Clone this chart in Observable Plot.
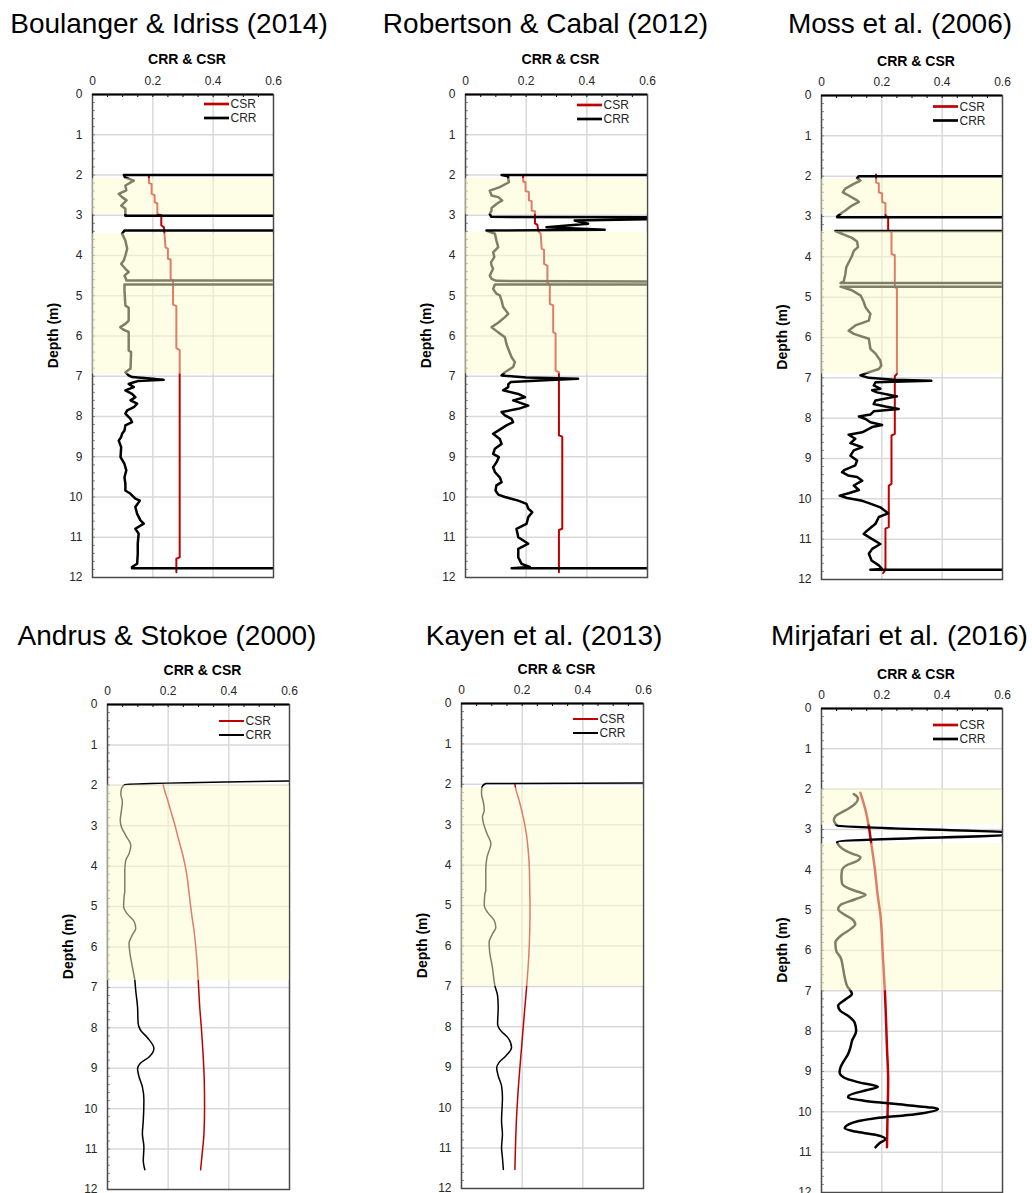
<!DOCTYPE html>
<html>
<head>
<meta charset="utf-8">
<script src="https://cdn.jsdelivr.net/npm/d3@7"></script>
<script src="https://cdn.jsdelivr.net/npm/@observablehq/plot@0.6"></script>
<style>
  body { margin: 0; background: #fff; }
  #root { position: relative; width: 1032px; height: 1193px; overflow: hidden; font-family: "Liberation Sans", Arial, sans-serif; }
  .panel { position: absolute; }
  #overlay { position: absolute; left: 0; top: 0; pointer-events: none; }
</style>
</head>
<body>
<div id="root"></div>
<script>
// ---------------- DATA ----------------
const TITLES = ["Boulanger & Idriss (2014)", "Robertson & Cabal (2012)", "Moss et al. (2006)",
                "Andrus & Stokoe (2000)", "Kayen et al. (2013)", "Mirjafari et al. (2016)"];
const X_LABEL = "CRR & CSR";
const Y_LABEL = "Depth (m)";
const SERIES = ["CSR", "CRR"];
const X_DOMAIN = [0, 0.6];
const Y_DOMAIN = [0, 12];
const X_TICKS = [0, 0.2, 0.4, 0.6];
const X_MINOR = [0, 0.05, 0.1, 0.15, 0.2, 0.25, 0.3, 0.35, 0.4, 0.45, 0.5, 0.55, 0.6];
const Y_TICKS = [0, 1, 2, 3, 4, 5, 6, 7, 8, 9, 10, 11, 12];
const Y_MINOR = d3.range(0, 12.001, 0.2);
const X_GRID = [0.2, 0.4];
const Y_GRID = [1, 2, 3, 4, 5, 6, 7, 8, 9, 10, 11];

// [depth (m), value]
const BI_CRR = [[2.0,0.65],[2.0,0.104],[2.06,0.108],[2.14,0.137],[2.26,0.109],[2.38,0.112],[2.47,0.087],[2.55,0.098],[2.63,0.113],[2.76,0.095],[2.84,0.109],[2.99,0.109],[3.01,0.109],[3.01,0.65],[3.38,0.65],[3.38,0.106],[3.46,0.098],[3.63,0.109],[3.83,0.115],[4.0,0.109],[4.12,0.104],[4.21,0.095],[4.33,0.109],[4.41,0.12],[4.5,0.106],[4.6,0.112],[4.62,0.112],[4.62,0.65],[4.72,0.65],[4.72,0.106],[4.87,0.106],[5.24,0.109],[5.3,0.12],[5.62,0.12],[5.7,0.109],[5.78,0.092],[5.85,0.104],[5.9,0.12],[6.36,0.12],[6.4,0.128],[6.81,0.126],[6.9,0.109],[6.98,0.12],[7.02,0.131],[7.06,0.2],[7.09,0.236],[7.12,0.15],[7.15,0.137],[7.19,0.12],[7.27,0.137],[7.35,0.109],[7.44,0.131],[7.52,0.142],[7.6,0.126],[7.68,0.148],[7.77,0.137],[7.85,0.115],[7.93,0.109],[8.06,0.126],[8.14,0.131],[8.22,0.109],[8.35,0.106],[8.43,0.098],[8.51,0.095],[8.6,0.087],[8.76,0.095],[9.01,0.093],[9.18,0.106],[9.34,0.112],[9.51,0.106],[9.67,0.109],[9.84,0.109],[9.92,0.126],[10.04,0.142],[10.09,0.157],[10.25,0.142],[10.42,0.148],[10.58,0.159],[10.66,0.17],[10.79,0.142],[10.91,0.153],[11.16,0.15],[11.41,0.15],[11.66,0.148],[11.74,0.131],[11.77,0.131],[11.77,0.65]];
const BI_CSR = [[2.03,0.187],[2.2,0.187],[2.22,0.196],[2.47,0.196],[2.5,0.206],[2.68,0.206],[2.7,0.215],[2.97,0.215],[3.0,0.228],[3.25,0.228],[3.3,0.237],[3.8,0.242],[3.83,0.25],[4.08,0.25],[4.1,0.259],[4.58,0.259],[4.62,0.267],[5.22,0.267],[5.26,0.278],[6.3,0.278],[6.35,0.289],[11.5,0.289],[11.53,0.278],[11.87,0.278]];
const BI_SHADE = [[2.09,2.98],[3.46,6.95]];

const RC_CRR = [[2.0,0.65],[2.0,0.119],[2.03,0.14],[2.09,0.141],[2.18,0.143],[2.3,0.113],[2.39,0.08],[2.51,0.086],[2.55,0.108],[2.63,0.121],[2.72,0.102],[2.82,0.086],[2.88,0.086],[2.97,0.08],[3.04,0.085],[3.05,0.65],[3.09,0.65],[3.13,0.36],[3.21,0.404],[3.3,0.267],[3.36,0.459],[3.38,0.069],[3.46,0.097],[3.63,0.102],[3.79,0.108],[3.92,0.091],[4.04,0.095],[4.17,0.084],[4.25,0.086],[4.33,0.091],[4.5,0.08],[4.58,0.086],[4.63,0.102],[4.65,0.65],[4.72,0.65],[4.72,0.097],[4.83,0.091],[4.95,0.102],[4.99,0.113],[5.12,0.119],[5.28,0.124],[5.45,0.141],[5.53,0.13],[5.66,0.11],[5.78,0.086],[5.91,0.108],[6.03,0.13],[6.2,0.135],[6.36,0.143],[6.53,0.152],[6.65,0.163],[6.77,0.157],[6.9,0.13],[6.98,0.119],[7.03,0.2],[7.06,0.371],[7.1,0.262],[7.14,0.15],[7.2,0.141],[7.27,0.141],[7.35,0.124],[7.44,0.174],[7.52,0.196],[7.6,0.157],[7.73,0.207],[7.81,0.174],[7.89,0.119],[7.97,0.13],[8.06,0.152],[8.14,0.157],[8.22,0.135],[8.35,0.108],[8.43,0.091],[8.56,0.113],[8.68,0.119],[8.8,0.097],[8.93,0.091],[9.01,0.11],[9.14,0.102],[9.26,0.091],[9.38,0.097],[9.51,0.113],[9.63,0.119],[9.71,0.102],[9.84,0.099],[9.94,0.108],[10.0,0.13],[10.09,0.174],[10.17,0.201],[10.29,0.207],[10.38,0.22],[10.5,0.207],[10.67,0.201],[10.79,0.168],[11.0,0.174],[11.16,0.207],[11.29,0.174],[11.5,0.174],[11.66,0.185],[11.74,0.212],[11.77,0.152],[11.77,0.65]];
const RC_CSR = [[2.01,0.19],[2.16,0.19],[2.18,0.198],[2.4,0.198],[2.42,0.209],[2.63,0.209],[2.65,0.218],[2.88,0.218],[2.9,0.229],[3.2,0.229],[3.24,0.237],[3.4,0.24],[3.46,0.248],[3.83,0.251],[3.86,0.259],[4.21,0.259],[4.25,0.27],[4.68,0.27],[4.72,0.278],[5.2,0.278],[5.24,0.289],[5.9,0.289],[5.94,0.297],[6.86,0.297],[6.9,0.308],[8.47,0.308],[8.5,0.319],[10.79,0.319],[10.82,0.308],[11.87,0.308]];
const RC_SHADE = [[2.09,2.98],[3.42,6.94]];

const MO_CRR = [[2.0,0.65],[2.0,0.124],[2.05,0.118],[2.11,0.129],[2.19,0.107],[2.31,0.079],[2.4,0.071],[2.48,0.09],[2.6,0.118],[2.64,0.124],[2.73,0.101],[2.85,0.079],[2.93,0.063],[3.0,0.052],[3.02,0.052],[3.02,0.65],[3.36,0.65],[3.36,0.046],[3.43,0.068],[3.53,0.101],[3.62,0.118],[3.76,0.121],[3.85,0.107],[3.98,0.101],[4.14,0.09],[4.26,0.082],[4.43,0.079],[4.6,0.074],[4.65,0.063],[4.65,0.65],[4.74,0.65],[4.74,0.063],[4.83,0.101],[4.96,0.13],[5.12,0.14],[5.25,0.146],[5.41,0.162],[5.58,0.157],[5.7,0.112],[5.83,0.09],[5.91,0.107],[6.03,0.157],[6.28,0.162],[6.4,0.179],[6.57,0.195],[6.7,0.198],[6.78,0.19],[6.89,0.146],[6.94,0.129],[7.0,0.157],[7.05,0.24],[7.07,0.364],[7.11,0.179],[7.19,0.173],[7.27,0.195],[7.31,0.168],[7.36,0.184],[7.42,0.223],[7.46,0.25],[7.56,0.179],[7.65,0.173],[7.71,0.212],[7.77,0.256],[7.83,0.173],[7.91,0.162],[7.96,0.124],[8.02,0.146],[8.1,0.162],[8.17,0.201],[8.22,0.168],[8.35,0.135],[8.41,0.09],[8.51,0.112],[8.62,0.096],[8.72,0.135],[8.8,0.107],[8.93,0.096],[9.05,0.118],[9.17,0.112],[9.28,0.077],[9.34,0.068],[9.42,0.088],[9.46,0.118],[9.55,0.135],[9.67,0.107],[9.78,0.124],[9.86,0.09],[9.92,0.06],[9.98,0.085],[10.05,0.135],[10.12,0.162],[10.21,0.195],[10.36,0.221],[10.45,0.19],[10.62,0.179],[10.79,0.151],[10.87,0.14],[10.95,0.157],[11.12,0.195],[11.24,0.168],[11.36,0.157],[11.53,0.166],[11.65,0.19],[11.74,0.201],[11.76,0.162],[11.76,0.65]];
const MO_CSR = [[1.96,0.181],[2.16,0.181],[2.18,0.19],[2.4,0.19],[2.43,0.201],[2.64,0.201],[2.67,0.212],[2.98,0.212],[3.02,0.221],[3.35,0.221],[3.38,0.232],[3.93,0.232],[3.96,0.243],[4.75,0.243],[4.78,0.25],[6.9,0.25],[6.96,0.243],[8.39,0.243],[8.43,0.232],[9.63,0.232],[9.67,0.223],[10.7,0.223],[10.74,0.212],[11.76,0.212],[11.84,0.204]];
const MO_SHADE = [[2.07,2.95],[3.37,6.9]];

const AS_CRR = [[1.89,0.6],[1.98,0.057],[2.08,0.046],[2.21,0.044],[2.41,0.049],[2.62,0.046],[2.87,0.042],[3.03,0.046],[3.24,0.06],[3.49,0.077],[3.69,0.071],[3.86,0.06],[4.11,0.057],[4.6,0.057],[4.75,0.055],[5.0,0.053],[5.17,0.064],[5.37,0.088],[5.54,0.093],[5.7,0.082],[5.91,0.071],[6.16,0.074],[6.49,0.082],[6.82,0.09],[7.07,0.093],[7.48,0.099],[7.89,0.101],[8.06,0.109],[8.24,0.131],[8.51,0.153],[8.72,0.137],[8.87,0.109],[9.01,0.099],[9.21,0.104],[9.46,0.115],[9.79,0.12],[10.29,0.118],[10.62,0.115],[10.95,0.12],[11.28,0.118],[11.51,0.123]];
const AS_CSR = [[2.0,0.184],[2.12,0.188],[2.33,0.197],[2.62,0.208],[2.95,0.221],[3.36,0.235],[3.78,0.25],[4.19,0.261],[4.6,0.268],[5.17,0.277],[5.58,0.285],[6.16,0.293],[6.82,0.299],[7.48,0.304],[8.06,0.31],[8.64,0.315],[9.3,0.319],[9.96,0.32],[10.62,0.318],[11.12,0.312],[11.51,0.307]];
const AS_SHADE = [[2.0,6.83]];

const KA_CRR = [[1.97,0.6],[1.98,0.08],[2.08,0.067],[2.23,0.066],[2.48,0.073],[2.64,0.075],[2.81,0.069],[2.98,0.073],[3.22,0.084],[3.47,0.097],[3.64,0.091],[3.8,0.084],[4.13,0.08],[4.63,0.08],[4.71,0.077],[5.0,0.075],[5.17,0.086],[5.37,0.108],[5.54,0.113],[5.7,0.102],[5.91,0.091],[6.16,0.093],[6.53,0.102],[6.98,0.11],[7.23,0.119],[7.52,0.121],[7.93,0.119],[8.1,0.13],[8.26,0.152],[8.51,0.165],[8.72,0.146],[8.88,0.124],[9.01,0.116],[9.21,0.121],[9.46,0.132],[9.75,0.135],[10.33,0.132],[10.66,0.135],[10.99,0.132],[11.24,0.135],[11.53,0.138]];
const KA_CSR = [[2.0,0.176],[2.15,0.18],[2.4,0.19],[2.73,0.201],[3.14,0.212],[3.64,0.22],[4.13,0.224],[4.63,0.225],[5.0,0.226],[5.62,0.225],[6.36,0.221],[6.98,0.215],[7.69,0.207],[8.51,0.198],[9.34,0.189],[10.17,0.182],[11.53,0.176]];
const KA_SHADE = [[2.09,7.0]];

const MJ_CRR = [[2.12,0.107],[2.23,0.121],[2.36,0.112],[2.48,0.09],[2.59,0.063],[2.67,0.046],[2.77,0.041],[2.85,0.046],[2.9,0.052],[3.1,0.66],[3.31,0.052],[3.37,0.055],[3.47,0.068],[3.6,0.101],[3.68,0.129],[3.78,0.118],[3.88,0.085],[4.01,0.068],[4.17,0.066],[4.34,0.068],[4.46,0.09],[4.55,0.124],[4.62,0.146],[4.73,0.112],[4.87,0.063],[4.98,0.055],[5.1,0.074],[5.22,0.101],[5.35,0.112],[5.47,0.096],[5.61,0.068],[5.8,0.046],[6.01,0.049],[6.17,0.063],[6.42,0.071],[6.67,0.077],[6.88,0.085],[7.07,0.101],[7.21,0.08],[7.37,0.055],[7.5,0.063],[7.62,0.088],[7.79,0.11],[7.99,0.115],[8.24,0.101],[8.4,0.096],[8.57,0.088],[8.74,0.074],[8.9,0.063],[9.02,0.06],[9.15,0.074],[9.27,0.124],[9.38,0.187],[9.46,0.151],[9.6,0.09],[9.64,0.088],[9.73,0.146],[9.83,0.278],[9.93,0.386],[10.06,0.311],[10.16,0.179],[10.31,0.09],[10.41,0.077],[10.49,0.112],[10.57,0.179],[10.68,0.212],[10.76,0.195],[10.88,0.179]];
const MJ_CSR = [[2.09,0.129],[2.52,0.146],[2.93,0.157],[3.35,0.165],[3.93,0.176],[4.67,0.187],[5.1,0.195],[6.09,0.203],[7.0,0.21],[8.4,0.217],[9.23,0.221],[10.06,0.219],[10.88,0.217]];
const MJ_SHADE = [[2.0,2.89],[3.35,7.0]];

// ---------------- LAYOUT & STYLE ----------------
const FONT = '"Liberation Sans", Arial, Helvetica, sans-serif';
const CSR_COLOR = "#c00000";
const CRR_COLOR = "#000000";
const SHADE_COLOR = "#fdfbcd";
const SHADE_OPACITY = 0.5;

const PANELS = [
  {title: TITLES[0], crr: BI_CRR, csr: BI_CSR, shade: BI_SHADE, left: 92, top: 94, w: 181, h: 483, titleX: 169, titleY: 33, labelY: 64, legY: 10, crrW: 2.5, csrW: 2, legW: 2.7, curve: "linear"},
  {title: TITLES[1], crr: RC_CRR, csr: RC_CSR, shade: RC_SHADE, left: 465, top: 94, w: 182, h: 483, titleX: 545.5, titleY: 33, labelY: 64, legY: 11, crrW: 2.5, csrW: 2, legW: 2.7, curve: "linear"},
  {title: TITLES[2], crr: MO_CRR, csr: MO_CSR, shade: MO_SHADE, left: 821, top: 95, w: 181, h: 484, titleX: 900, titleY: 33, labelY: 66, legY: 11.5, crrW: 2.5, csrW: 2, legW: 2.7, curve: "linear"},
  {title: TITLES[3], crr: AS_CRR, csr: AS_CSR, shade: AS_SHADE, left: 107, top: 704, w: 182, h: 485, titleX: 167, titleY: 645, labelY: 675, legY: 17, crrW: 1.5, csrW: 1.5, legW: 2, curve: "monotone-y"},
  {title: TITLES[4], crr: KA_CRR, csr: KA_CSR, shade: KA_SHADE, left: 461, top: 703, w: 182, h: 485, titleX: 544, titleY: 645, labelY: 674, legY: 16, crrW: 1.5, csrW: 1.5, legW: 2, curve: "monotone-y"},
  {title: TITLES[5], crr: MJ_CRR, csr: MJ_CSR, shade: MJ_SHADE, left: 821, top: 708, w: 181, h: 484, titleX: 899.5, titleY: 645, labelY: 679, legY: 17, crrW: 2.5, csrW: 2.5, legW: 2.7, curve: "monotone-y"}
];

const root = document.getElementById("root");
const mL = 32, mT = 28, mR = 4, mB = 14;

for (const p of PANELS) {
  const chart = Plot.plot({
    width: p.w + mL + mR,
    height: p.h + mT + mB,
    marginLeft: mL, marginTop: mT, marginRight: mR, marginBottom: mB,
    style: {fontFamily: FONT, fontSize: "12px", color: "#262626", background: "transparent", overflow: "visible"},
    x: {domain: X_DOMAIN},
    y: {domain: Y_DOMAIN, reverse: true},
    marks: [
      Plot.gridX(X_GRID, {stroke: "#d9d9d9", strokeOpacity: 1, strokeWidth: 1.5}),
      Plot.gridY(Y_GRID, {stroke: "#d9d9d9", strokeOpacity: 1, strokeWidth: 1.5}),
      Plot.tickX(X_MINOR, {x: d => d, stroke: "#000", strokeWidth: 1, insetBottom: p.h - 3}),
      Plot.tickY(Y_MINOR, {y: d => d, stroke: "#8c8c8c", strokeWidth: 1, insetRight: p.w - 3}),
      Plot.line(p.csr, {x: d => d[1], y: d => d[0], stroke: CSR_COLOR, strokeWidth: p.csrW, curve: p.curve, clip: true}),
      Plot.line(p.crr, {x: d => d[1], y: d => d[0], stroke: CRR_COLOR, strokeWidth: p.crrW, curve: p.curve, clip: true}),
      Plot.frame({stroke: "#4a4a4a", strokeWidth: 1.5}),
      Plot.ruleY([Y_DOMAIN[0]], {stroke: "#000", strokeWidth: 2}),
      Plot.rect(p.shade, {x1: () => X_DOMAIN[0], x2: () => X_DOMAIN[1], y1: d => d[0], y2: d => d[1], fill: SHADE_COLOR, fillOpacity: SHADE_OPACITY}),
      Plot.axisX({anchor: "top", ticks: X_TICKS, tickSize: 0, tickPadding: 10, tickFormat: d => String(d), label: null}),
      Plot.axisY({anchor: "left", ticks: Y_TICKS, tickSize: 0, tickPadding: 10, label: null})
    ]
  });
  const div = document.createElement("div");
  div.className = "panel";
  div.style.left = (p.left - mL) + "px";
  div.style.top = (p.top - mT) + "px";
  div.appendChild(chart);
  root.appendChild(div);
}

// ---------------- TEXT OVERLAY (titles, axis labels, legends) ----------------
const svg = d3.select(root).append("svg").attr("id", "overlay")
  .attr("width", 1032).attr("height", 1193)
  .style("font-family", FONT);

for (const p of PANELS) {
  svg.append("text").attr("x", p.titleX).attr("y", p.titleY)
    .attr("text-anchor", "middle").attr("font-size", 28).attr("fill", "#000").text(p.title);
  svg.append("text").attr("x", p.left + p.w / 2 + 4.5).attr("y", p.labelY)
    .attr("text-anchor", "middle").attr("font-size", 14).attr("font-weight", "bold").attr("fill", "#000").text(X_LABEL);
  svg.append("text").attr("transform", `translate(${p.left - 34},${p.top + p.h / 2}) rotate(-90)`)
    .attr("text-anchor", "middle").attr("font-size", 14).attr("font-weight", "bold").attr("fill", "#000").text(Y_LABEL);
  const colors = [CSR_COLOR, CRR_COLOR];
  SERIES.forEach((s, i) => {
    const y = p.top + p.legY + i * 14;
    svg.append("line").attr("x1", p.left + 112).attr("x2", p.left + 137).attr("y1", y).attr("y2", y)
      .attr("stroke", colors[i]).attr("stroke-width", p.legW);
    svg.append("text").attr("x", p.left + 138.5).attr("y", y + 4.3)
      .attr("font-size", 12).attr("fill", "#262626").text(s);
  });
}
</script>
</body>
</html>
